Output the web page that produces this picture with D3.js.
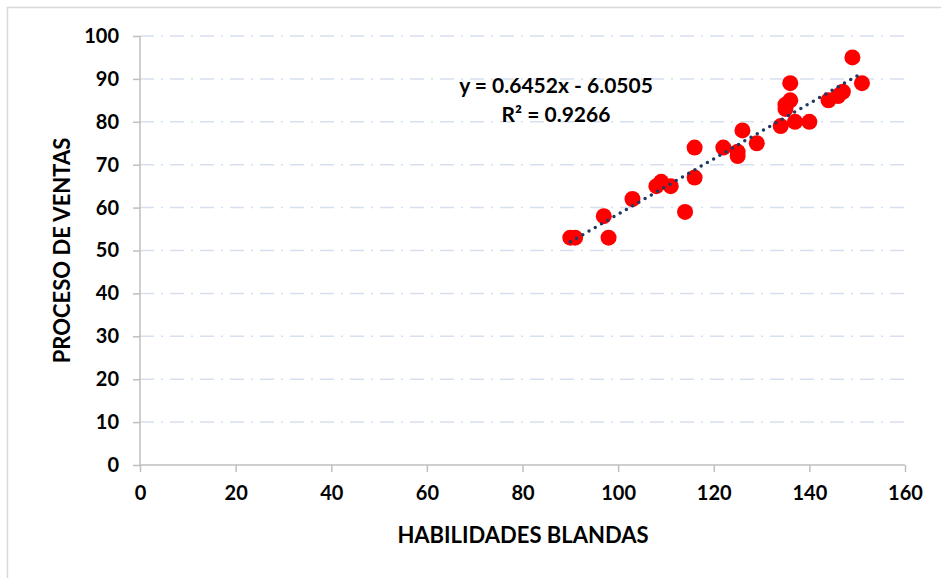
<!DOCTYPE html>
<html>
<head>
<meta charset="utf-8">
<script src="https://cdn.jsdelivr.net/npm/d3@7/dist/d3.min.js"></script>
<style>
  html, body { margin: 0; padding: 0; background: #fff; }
  svg { display: block; }
  text { font-family: Lato, "Open Sans", sans-serif; font-weight: 700; fill: #000; }
</style>
</head>
<body>
<svg id="chart" width="941" height="578"></svg>
<script>
// Soft skills score (x) vs. sales process score (y)
const habilidades = [90, 91, 98, 97, 103, 114, 108, 109, 111, 116, 116, 122, 125, 125, 126, 129, 134, 135, 135, 136, 136, 137, 140, 144, 146, 147, 149, 151];
const ventas      = [53, 53, 53, 58, 62, 59, 65, 66, 65, 67, 74, 74, 73, 72, 78, 75, 79, 83, 84, 85, 89, 80, 80, 85, 86, 87, 95, 89];

// Linear trendline coefficients shown on the chart
const slope = 0.6452;
const intercept = -6.0505;
const r2 = 0.9266;

const xTicks = [0, 20, 40, 60, 80, 100, 120, 140, 160];
const yTicks = [0, 10, 20, 30, 40, 50, 60, 70, 80, 90, 100];

const xTitle = "HABILIDADES BLANDAS";
const yTitle = "PROCESO DE VENTAS";

const svg = d3.select("#chart");
const W = 941, H = 578;
const plot = { left: 140, right: 905, top: 36, bottom: 465 };

// outer chart frame
svg.append("rect")
  .attr("x", 7.5).attr("y", 7.5)
  .attr("width", W + 20).attr("height", H + 20)
  .attr("fill", "#fff").attr("stroke", "#d9d9d9").attr("stroke-width", 1.5);

const x = d3.scaleLinear().domain([0, 160]).range([plot.left, plot.right]);
const y = d3.scaleLinear().domain([0, 100]).range([plot.bottom, plot.top]);

// horizontal dash-dot gridlines
svg.append("g")
  .selectAll("line")
  .data(yTicks.filter(d => d > 0))
  .join("line")
  .attr("x1", plot.left).attr("x2", plot.right)
  .attr("y1", d => y(d)).attr("y2", d => y(d))
  .attr("stroke", "#d6e0f0").attr("stroke-width", 1.5)
  .attr("stroke-dasharray", "14,7,2,7");

// axes
const xAxis = svg.append("g")
  .attr("transform", `translate(0,${plot.bottom})`)
  .call(d3.axisBottom(x).tickValues(xTicks).tickSize(7).tickPadding(14).tickFormat(d3.format("d")));
const yAxis = svg.append("g")
  .attr("transform", `translate(${plot.left},0)`)
  .call(d3.axisLeft(y).tickValues(yTicks).tickSize(7).tickPadding(14).tickFormat(d3.format("d")));

[xAxis, yAxis].forEach(g => {
  g.select(".domain").attr("stroke", "#bfbfbf").attr("stroke-width", 1.5);
  g.selectAll(".tick line").attr("stroke", "#bfbfbf").attr("stroke-width", 1.5);
  g.selectAll(".tick text")
    .attr("font-family", "Lato, 'Open Sans', sans-serif")
    .attr("font-weight", 700)
    .attr("font-size", 20)
    .attr("fill", "#000");
});
xAxis.select(".domain").attr("d", `M${plot.left},0H${plot.right}`);
yAxis.select(".domain").attr("d", `M0,${plot.bottom}V${plot.top}`);

// scatter points
svg.append("g")
  .selectAll("circle")
  .data(habilidades.map((h, i) => [h, ventas[i]]))
  .join("circle")
  .attr("cx", d => x(d[0]))
  .attr("cy", d => y(d[1]))
  .attr("r", 8)
  .attr("fill", "#ff0000");

// dotted linear trendline across the data range
const xMin = d3.min(habilidades), xMax = d3.max(habilidades);
svg.append("line")
  .attr("x1", x(xMin)).attr("y1", y(slope * xMin + intercept))
  .attr("x2", x(xMax)).attr("y2", y(slope * xMax + intercept))
  .attr("stroke", "#1f3864")
  .attr("stroke-width", 3.5)
  .attr("stroke-linecap", "round")
  .attr("stroke-dasharray", "0,7.2");

// trendline equation and R²
svg.append("text")
  .attr("x", 556).attr("y", 93)
  .attr("text-anchor", "middle").attr("font-size", 21)
  .text(`y = ${slope}x - ${Math.abs(intercept)}`);
svg.append("text")
  .attr("x", 556).attr("y", 122)
  .attr("text-anchor", "middle").attr("font-size", 21)
  .text(`R² = ${r2}`);

// axis titles
svg.append("text")
  .attr("x", 523).attr("y", 543)
  .attr("text-anchor", "middle").attr("font-size", 22)
  .text(xTitle);
svg.append("text")
  .attr("transform", `translate(70,${(plot.top + plot.bottom) / 2}) rotate(-90)`)
  .attr("text-anchor", "middle").attr("font-size", 22)
  .text(yTitle);
</script>
</body>
</html>
